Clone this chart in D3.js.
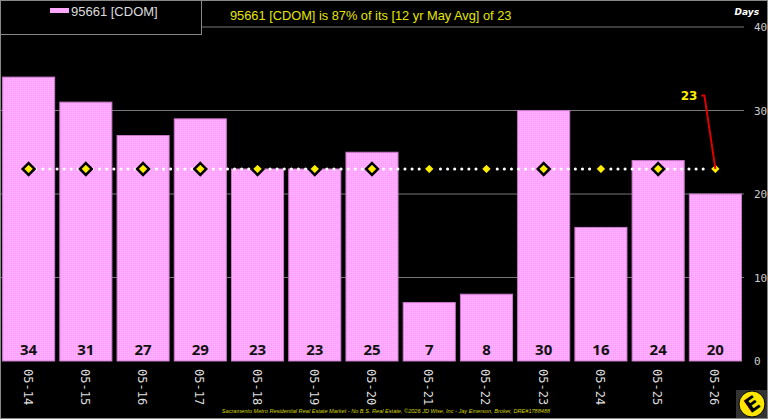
<!DOCTYPE html>
<html>
<head>
<meta charset="utf-8">
<script src="https://cdn.jsdelivr.net/npm/d3@7"></script>
<style>
  html, body { margin: 0; padding: 0; background: #000; }
  svg { display: block; }
</style>
</head>
<body>
<div id="chart"></div>
<script>
// chart data
const categories = ["05-14","05-15","05-16","05-17","05-18","05-19","05-20","05-21","05-22","05-23","05-24","05-25","05-26"];
const cdomValues = [34, 31, 27, 29, 23, 23, 25, 7, 8, 30, 16, 24, 20];
const avgValues = [23, 23, 23, 23, 23, 23, 23, 23, 23, 23, 23, 23, 23];
const yTicks = [0, 10, 20, 30, 40];
const seriesName = "95661 [CDOM]";
const titleText = "95661 [CDOM] is 87% of its [12 yr May Avg] of 23";
const footerText = "Sacramento Metro Residential Real Estate Market - No B.S. Real Estate, \u00a92026 JD Wise, Inc - Jay Emerson, Broker, DRE#1788488";

const W = 768, H = 419;
const plot = {left: 0, right: 744, top: 27, bottom: 361};

const svg = d3.select("#chart").append("svg")
    .attr("width", W)
    .attr("height", H);

svg.append("rect").attr("width", W).attr("height", H).attr("fill", "#000");

// dithered pink fill like the original
const defs = svg.append("defs");
const pat = defs.append("pattern")
    .attr("id", "pinkDither")
    .attr("width", 2).attr("height", 2)
    .attr("patternUnits", "userSpaceOnUse");
pat.append("rect").attr("width", 2).attr("height", 2).attr("fill", "#ffa6ff");
pat.append("rect").attr("width", 1).attr("height", 1).attr("fill", "#ffb8ff");
pat.append("rect").attr("x", 1).attr("y", 1).attr("width", 1).attr("height", 1).attr("fill", "#ff9cff");

const x = d3.scaleBand()
    .domain(categories)
    .range([plot.left, plot.right])
    .paddingInner(0.09)
    .paddingOuter(0.045);

const y = d3.scaleLinear()
    .domain([0, 40])
    .range([plot.bottom, plot.top]);

// gridlines
svg.append("g").selectAll("line")
    .data(yTicks.filter(d => d > 0))
    .enter().append("line")
    .attr("x1", plot.left).attr("x2", plot.right)
    .attr("y1", d => y(d)).attr("y2", d => y(d))
    .attr("stroke", "#777").attr("stroke-width", 1);

// right axis labels
const yAxis = d3.axisRight(y).tickValues(yTicks).tickSize(0).tickPadding(10);
const ya = svg.append("g")
    .attr("transform", `translate(${plot.right},0)`)
    .call(yAxis);
ya.select(".domain").remove();
ya.selectAll("text")
    .attr("fill", "#ccc")
    .style("font-family", "DejaVu Sans Mono, monospace")
    .style("font-size", "11px");

svg.append("text")
    .attr("x", 759).attr("y", 15)
    .attr("text-anchor", "end")
    .attr("fill", "#fff")
    .style("font-family", "DejaVu Sans, sans-serif")
    .style("font-size", "9px")
    .style("font-weight", "bold")
    .style("font-style", "italic")
    .text("Days");

// bars
svg.append("g").selectAll("rect")
    .data(cdomValues)
    .enter().append("rect")
    .attr("x", (d, i) => x(categories[i]))
    .attr("width", x.bandwidth())
    .attr("y", d => y(d))
    .attr("height", d => y(0) - y(d))
    .attr("fill", "url(#pinkDither)")
    .attr("stroke", "#c87ac8")
    .attr("stroke-width", 1);

// value labels
svg.append("g").selectAll("text")
    .data(cdomValues)
    .enter().append("text")
    .attr("x", (d, i) => x(categories[i]) + x.bandwidth() / 2)
    .attr("y", y(0) - 6)
    .attr("text-anchor", "middle")
    .attr("fill", "#111")
    .style("font-family", "Open Sans, sans-serif")
    .style("font-size", "15px")
    .style("font-weight", "bold")
    .text(d => d);

// x labels, rotated
svg.append("g").selectAll("text")
    .data(categories)
    .enter().append("text")
    .attr("transform", d => `translate(${x(d) + x.bandwidth() / 2 - 5},${y(0) + 8}) rotate(90)`)
    .attr("text-anchor", "start")
    .attr("fill", "#ddd")
    .style("font-family", "DejaVu Sans Mono, monospace")
    .style("font-size", "12px")
    .text(d => d);

// average line
const cx = (d, i) => x(categories[i]) + x.bandwidth() / 2;
const avgLine = d3.line()
    .x((d, i) => cx(d, i))
    .y(d => y(d));
svg.append("path")
    .datum(avgValues)
    .attr("d", avgLine)
    .attr("fill", "none")
    .attr("stroke", "#fff")
    .attr("stroke-width", 3)
    .attr("stroke-linecap", "round")
    .attr("stroke-dasharray", "0.1 7");

const diamond = d3.symbol().type(d3.symbolDiamond2).size(90);
svg.append("g").selectAll("path")
    .data(avgValues)
    .enter().append("path")
    .attr("d", diamond)
    .attr("transform", (d, i) => `translate(${cx(d, i)},${y(d)})`)
    .attr("fill", "#ffee00")
    .attr("stroke", "#000")
    .attr("stroke-width", 2.5);

// annotation on the last average point
const lastI = avgValues.length - 1;
const ax = cx(avgValues[lastI], lastI), ay = y(avgValues[lastI]);
svg.append("path")
    .attr("d", `M${ax - 14},${y(31.8)} L${ax - 11},${y(31.8)} L${ax},${ay}`)
    .attr("fill", "none")
    .attr("stroke", "#e00000")
    .attr("stroke-width", 2);
svg.append("text")
    .attr("x", ax - 18).attr("y", y(31.8) + 5)
    .attr("text-anchor", "end")
    .attr("fill", "#ffee00")
    .style("font-family", "DejaVu Sans, sans-serif")
    .style("font-size", "12px")
    .style("font-weight", "bold")
    .text(avgValues[lastI]);

// legend box
svg.append("rect")
    .attr("x", 0.5).attr("y", 0.5).attr("width", 201).attr("height", 34)
    .attr("fill", "#000").attr("stroke", "#888");
svg.append("rect")
    .attr("x", 50).attr("y", 8).attr("width", 19).attr("height", 5)
    .attr("fill", "#ffa6ff");
svg.append("text")
    .attr("x", 71).attr("y", 16)
    .attr("fill", "#ddd")
    .style("font-family", "Liberation Sans, Arial, sans-serif")
    .style("font-size", "13px")
    .text(seriesName);

// title
svg.append("text")
    .attr("x", 230).attr("y", 20)
    .attr("fill", "#e6e600")
    .style("font-family", "Liberation Sans, Arial, sans-serif")
    .style("font-size", "12.8px")
    .text(titleText);

// footer
svg.append("text")
    .attr("x", 386).attr("y", 413)
    .attr("text-anchor", "middle")
    .attr("fill", "#d4d400")
    .style("font-family", "Liberation Sans, Arial, sans-serif")
    .style("font-size", "5.6px")
    .style("font-style", "italic")
    .text(footerText);

// logo
const logo = svg.append("g").attr("transform", "translate(752,404)");
logo.append("rect").attr("x", -16).attr("y", -14).attr("width", 32).attr("height", 30).attr("fill", "#333");
logo.append("circle").attr("r", 13).attr("fill", "#ffe600").attr("stroke", "#000").attr("stroke-width", 1);
logo.append("text")
    .attr("transform", "rotate(-35)")
    .attr("y", 7)
    .attr("text-anchor", "middle")
    .attr("fill", "#000")
    .style("font-family", "DejaVu Sans, sans-serif")
    .style("font-size", "20px")
    .style("font-weight", "bold")
    .text("E");

// outer frame
svg.append("rect")
    .attr("x", 0.5).attr("y", 0.5).attr("width", W - 1).attr("height", H - 1)
    .attr("fill", "none").attr("stroke", "#888");
</script>
</body>
</html>
